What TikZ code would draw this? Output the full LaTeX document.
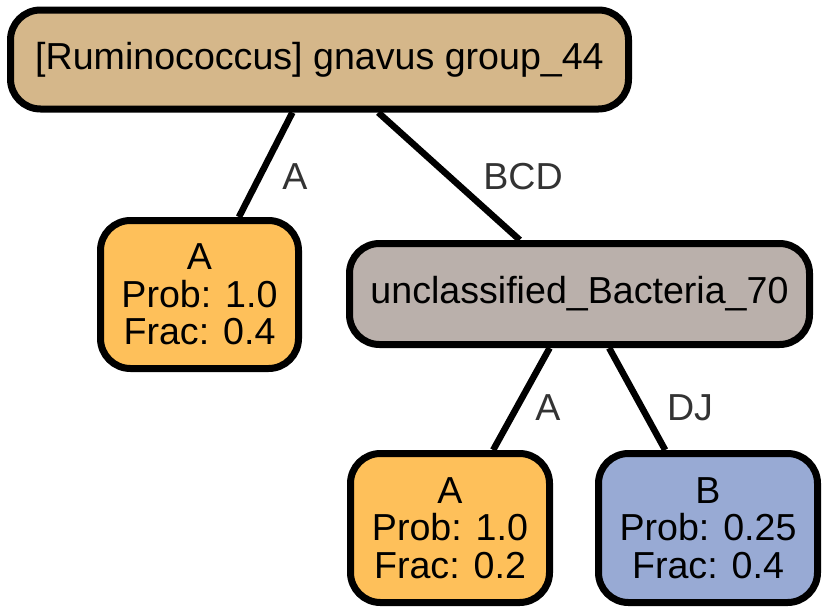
\documentclass[tikz,border=0pt]{standalone}
\usepackage{fontspec}
\setmainfont{Liberation Sans}
\usetikzlibrary{backgrounds}
\definecolor{tanc}{HTML}{D5B78A}
\definecolor{orangec}{HTML}{FEC05A}
\definecolor{greyc}{HTML}{BAB0AB}
\definecolor{bluec}{HTML}{98AAD4}
\definecolor{labc}{HTML}{333333}
\tikzset{
  box/.style={draw=black, line width=7pt, rounded corners=30pt, inner sep=0pt,
    align=center, font=\fontsize{37.6}{37.5}\selectfont},
  conn/.style={draw=black, line width=6.5pt},
  elab/.style={text=labc, font=\fontsize{37.6}{37.5}\selectfont, inner sep=0pt}
}
\begin{document}
\begin{tikzpicture}[x=1pt,y=-1pt]
\useasboundingbox (0,0) rectangle (829,613);
\node[box, fill=tanc, minimum width=618pt, minimum height=99pt] (root) at (319.5,59.5) {[Ruminococcus] gnavus group\_44};
\node[box, fill=orangec, minimum width=198pt, minimum height=148pt] (a1) at (199.5,294.5) {A\\Prob: 1.0\\Frac: 0.4};
\node[box, fill=greyc, minimum width=460pt, minimum height=101pt] (unc) at (579.5,294) {unclassified\_Bacteria\_70};
\node[box, fill=orangec, minimum width=199pt, minimum height=149pt] (a2) at (450,528) {A\\Prob: 1.0\\Frac: 0.2};
\node[box, fill=bluec, minimum width=219pt, minimum height=149pt] (b) at (708,528) {B\\Prob: 0.25\\Frac: 0.4};
\begin{scope}[on background layer]
\draw[conn] (root) -- (a1);
\draw[conn] (root) -- (unc);
\draw[conn] (unc) -- (a2);
\draw[conn] (unc) -- (b);
\end{scope}
\node[elab] (l1) at (295,177) {A};
\node[elab] (l2) at (523,177) {BCD};
\node[elab] (l3) at (548,408) {A};
\node[elab] (l4) at (690,408) {DJ};
\end{tikzpicture}
\end{document}
